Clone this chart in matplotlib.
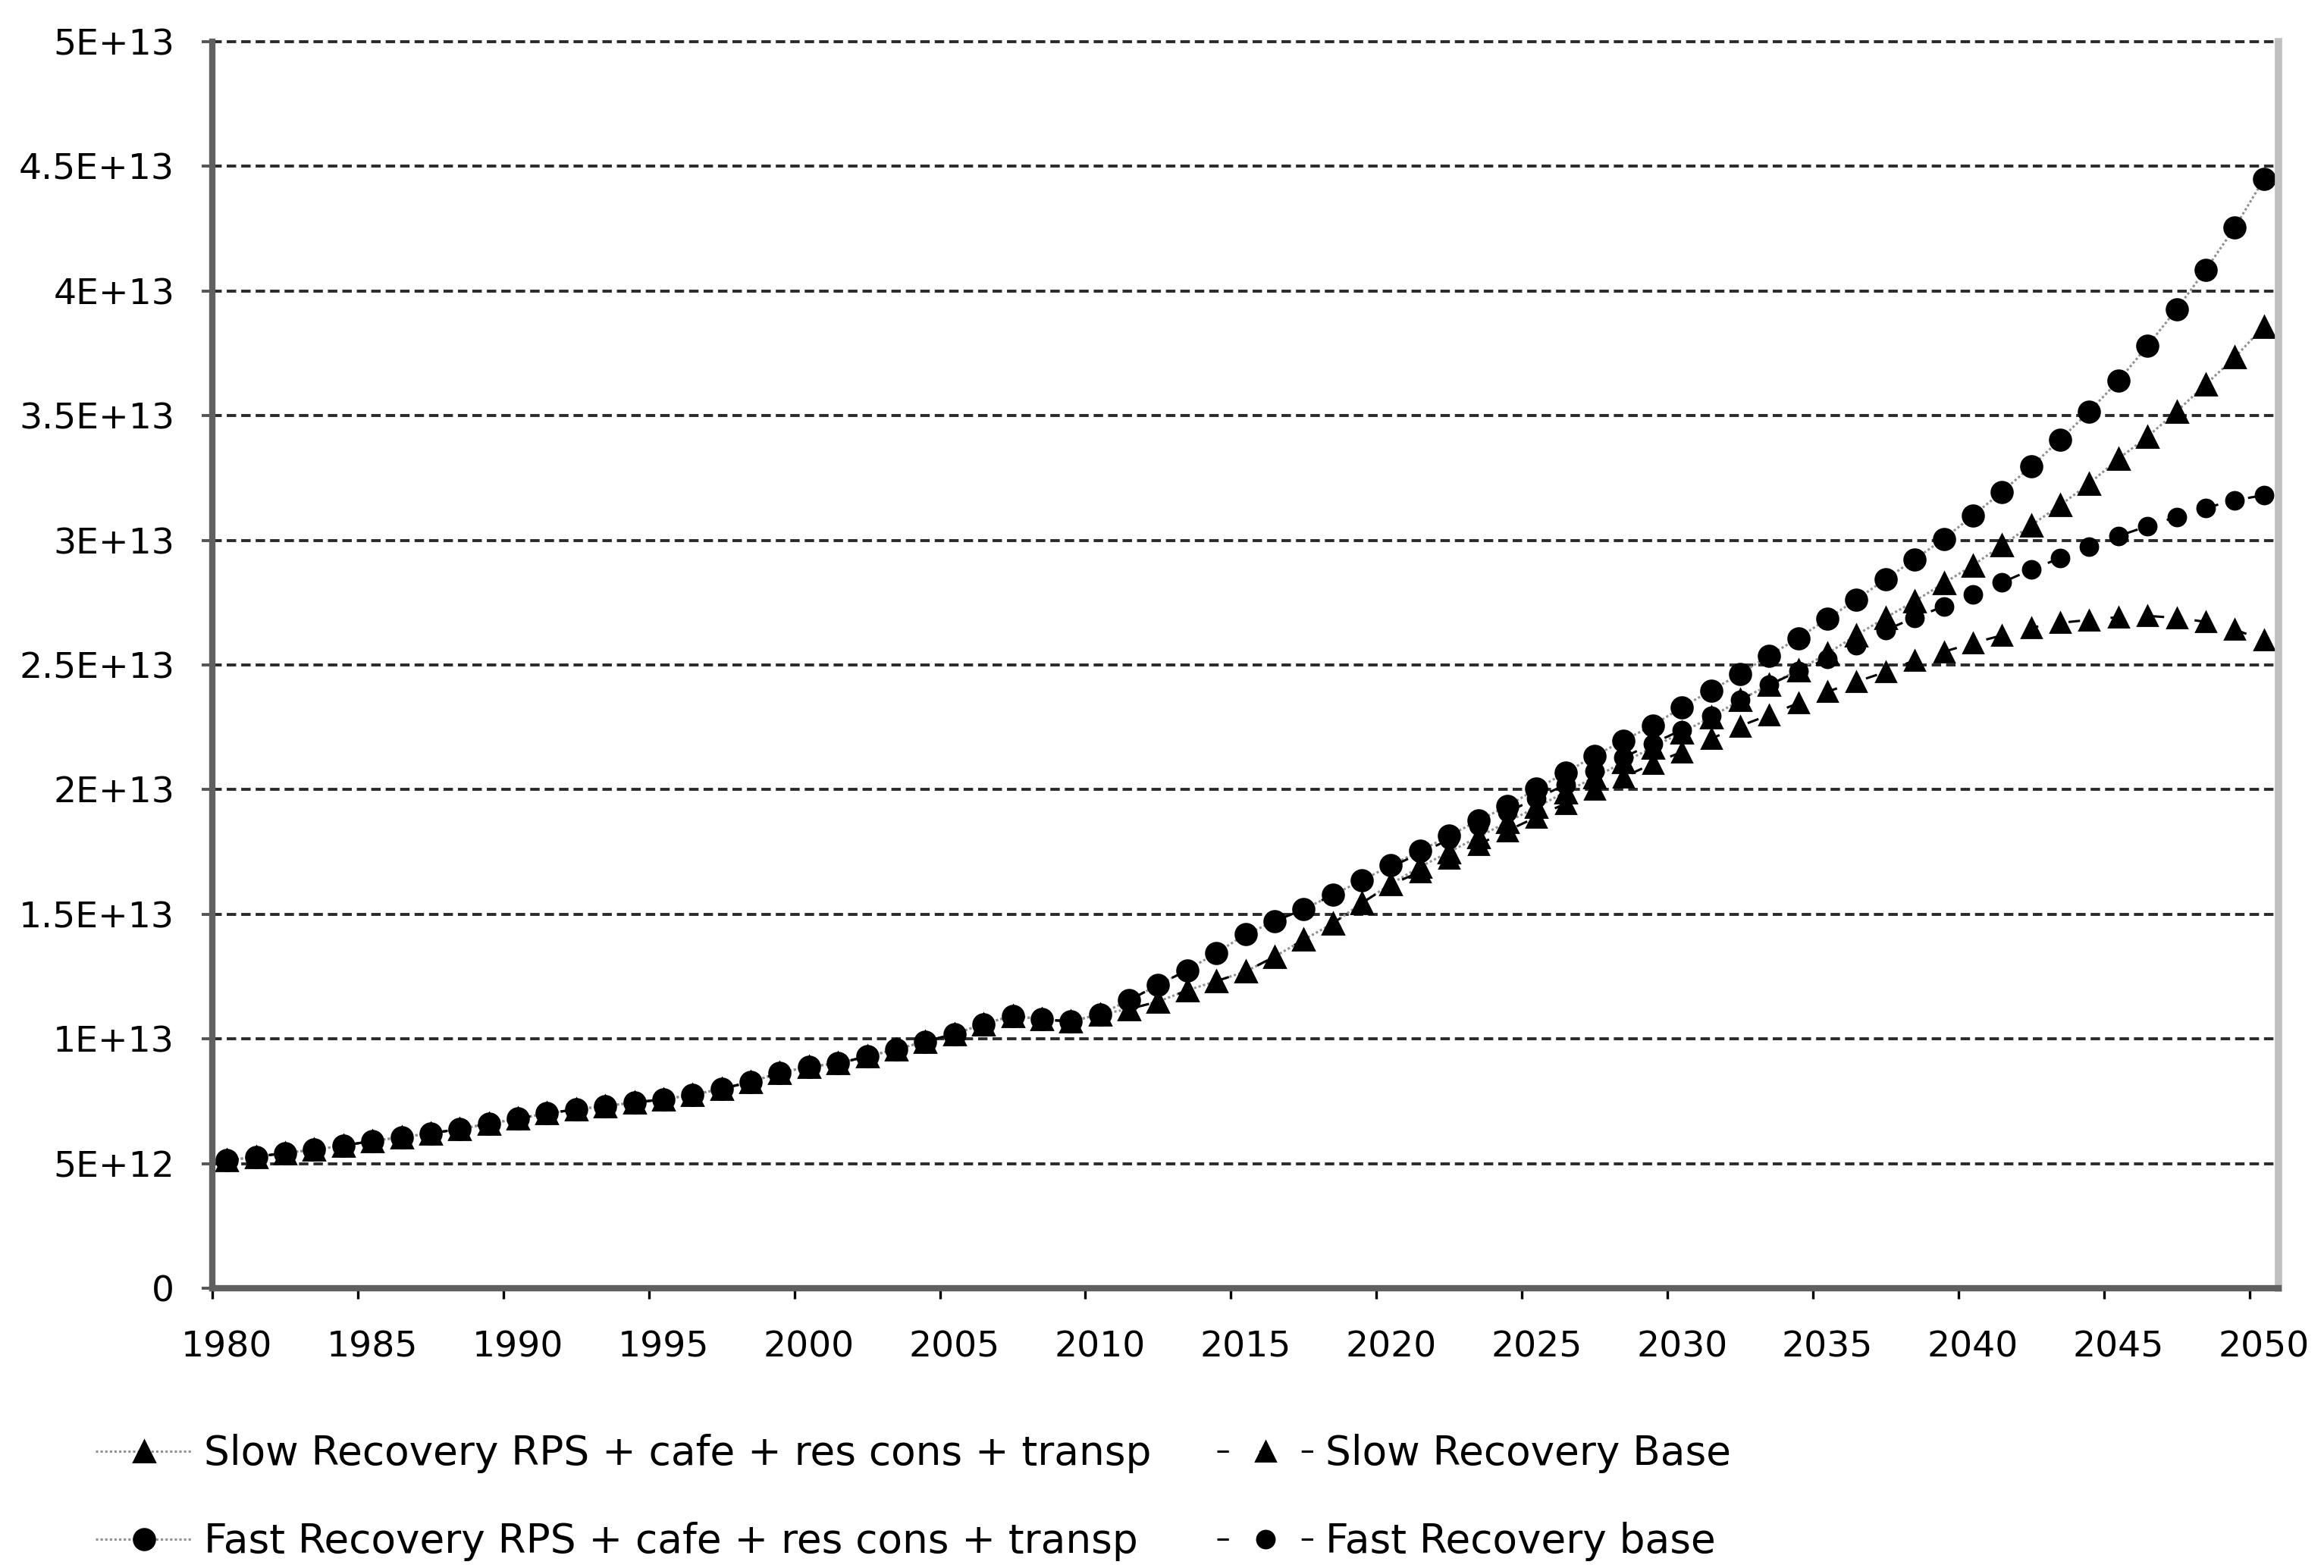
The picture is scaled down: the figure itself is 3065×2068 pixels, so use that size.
import matplotlib.pyplot as plt
from matplotlib.ticker import FixedLocator, FuncFormatter, NullFormatter

# data (values in units of 1E12), one point per year
years = list(range(1980, 2051))

slow_rps = [5.13, 5.27, 5.43, 5.56, 5.72, 5.91, 6.06, 6.21, 6.39, 6.60,
            6.80, 7.02, 7.17, 7.31, 7.45, 7.58, 7.76, 8.00, 8.28, 8.64,
            8.89, 9.02, 9.30, 9.58, 9.90, 10.20, 10.60, 10.93, 10.79, 10.70,
            10.99, 11.20, 11.50, 11.95, 12.32, 12.70, 13.30, 13.98, 14.63, 15.45,
            16.22, 16.90, 17.50, 18.10, 18.70, 19.30, 19.90, 20.50, 21.10, 21.70,
            22.30, 22.90, 23.60, 24.20, 24.80, 25.46, 26.20, 26.90, 27.56, 28.28,
            29.00, 29.80, 30.60, 31.41, 32.28, 33.27, 34.16, 35.17, 36.25, 37.34,
            38.58]

slow_base = [5.13, 5.27, 5.43, 5.56, 5.72, 5.91, 6.06, 6.21, 6.39, 6.60,
             6.80, 7.02, 7.17, 7.31, 7.45, 7.58, 7.76, 8.00, 8.28, 8.64,
             8.89, 9.02, 9.30, 9.58, 9.90, 10.20, 10.60, 10.93, 10.79, 10.70,
             10.99, 11.20, 11.50, 11.95, 12.32, 12.70, 13.30, 13.98, 14.63, 15.45,
             16.20, 16.70, 17.25, 17.80, 18.35, 18.90, 19.45, 20.00, 20.50, 21.05,
             21.51, 22.04, 22.55, 23.00, 23.47, 23.93, 24.33, 24.72, 25.19, 25.53,
             25.88, 26.19, 26.50, 26.69, 26.81, 26.92, 26.97, 26.89, 26.73, 26.42,
             25.99]

fast_rps = [5.13, 5.27, 5.43, 5.56, 5.72, 5.91, 6.06, 6.21, 6.39, 6.60,
            6.80, 7.02, 7.17, 7.31, 7.45, 7.58, 7.76, 8.00, 8.28, 8.64,
            8.89, 9.02, 9.30, 9.58, 9.90, 10.20, 10.60, 10.93, 10.79, 10.70,
            10.99, 11.55, 12.17, 12.76, 13.45, 14.19, 14.72, 15.20, 15.78, 16.35,
            16.97, 17.54, 18.15, 18.76, 19.34, 20.03, 20.68, 21.36, 21.97, 22.58,
            23.30, 23.98, 24.64, 25.38, 26.08, 26.85, 27.63, 28.44, 29.24, 30.06,
            30.99, 31.95, 32.96, 34.04, 35.17, 36.40, 37.80, 39.27, 40.85, 42.55,
            44.49]

fast_base = [5.13, 5.27, 5.43, 5.56, 5.72, 5.91, 6.06, 6.21, 6.39, 6.60,
             6.80, 7.02, 7.17, 7.31, 7.45, 7.58, 7.76, 8.00, 8.28, 8.64,
             8.89, 9.02, 9.30, 9.58, 9.90, 10.20, 10.60, 10.93, 10.79, 10.70,
             10.99, 11.55, 12.17, 12.76, 13.45, 14.19, 14.72, 15.20, 15.78, 16.35,
             16.90, 17.45, 18.00, 18.55, 19.10, 19.65, 20.20, 20.75, 21.30, 21.85,
             22.40, 22.95, 23.60, 24.20, 24.75, 25.25, 25.80, 26.40, 26.90, 27.35,
             27.82, 28.31, 28.82, 29.29, 29.75, 30.17, 30.57, 30.94, 31.30, 31.61,
             31.81]

labels = ['Slow Recovery RPS + cafe + res cons + transp',
          'Slow Recovery Base',
          'Fast Recovery RPS + cafe + res cons + transp',
          'Fast Recovery base']

scale = 1e12

plt.rcParams['font.family'] = ['DejaVu Sans']
fig = plt.figure(figsize=(15.325, 10.34), dpi=200)
ax = fig.add_axes([0.0914, 0.1784, 0.8890, 0.7950])

dotted = (0, (1, 1))
dashed = (0, (5, 13.2))

l1, = ax.plot(years, [v * scale for v in slow_rps], color='#909090', lw=1.1,
              linestyle=dotted, marker='^', ms=10, mfc='black', mec='black')
l2, = ax.plot(years, [v * scale for v in slow_base], color='black', lw=1.1,
              linestyle=dashed, marker='^', ms=9.5, mfc='black', mec='black')
l3, = ax.plot(years, [v * scale for v in fast_rps], color='#909090', lw=1.1,
              linestyle=dotted, marker='o', ms=10, mfc='black', mec='black')
l4, = ax.plot(years, [v * scale for v in fast_base], color='black', lw=1.1,
              linestyle=dashed, marker='o', ms=8.3, mfc='black', mec='black')

ax.set_xlim(1979.5, 2050.5)
ax.set_ylim(0, 5e13)

# y axis
ax.set_yticks([i * 5e12 for i in range(11)])
ax.yaxis.set_major_formatter(FuncFormatter(lambda v, p: '0' if v == 0 else '{:.2G}'.format(v)))
ax.tick_params(axis='y', direction='out', length=5, width=1.4, color='#555555',
               labelsize=17, pad=13)
ax.grid(axis='y', color='#2a2a2a', linewidth=1.4, linestyle=(0, (3.2, 1.7)))
for g in ax.yaxis.get_gridlines():
    g.set_clip_on(False)

# x axis: ticks between categories, labels on categories
ax.xaxis.set_major_locator(FixedLocator([1979.5 + 5 * k for k in range(15)]))
ax.xaxis.set_major_formatter(NullFormatter())
ax.xaxis.set_minor_locator(FixedLocator(years[::5]))
ax.xaxis.set_minor_formatter(FuncFormatter(lambda v, p: str(int(round(v)))))
ax.tick_params(axis='x', which='major', direction='out', length=5, width=1.2, color='black')
ax.tick_params(axis='x', which='minor', length=0, labelsize=17, pad=20)

ax.spines['top'].set_visible(False)
ax.spines['left'].set_color('#606060')
ax.spines['left'].set_linewidth(3)
ax.spines['bottom'].set_color('#606060')
ax.spines['bottom'].set_linewidth(3)
ax.spines['right'].set_color('#c0c0c0')
ax.spines['right'].set_linewidth(3.5)

fig.legend([l1, l3, l2, l4], [labels[0], labels[2], labels[1], labels[3]],
           ncol=2, loc='upper left', bbox_to_anchor=(0.041, 0.0855),
           frameon=False, fontsize=19.2, handlelength=2.4, handletextpad=0.28,
           columnspacing=1.63, labelspacing=1.2, borderpad=0, borderaxespad=0)

fig.savefig('out.png', dpi=200)
